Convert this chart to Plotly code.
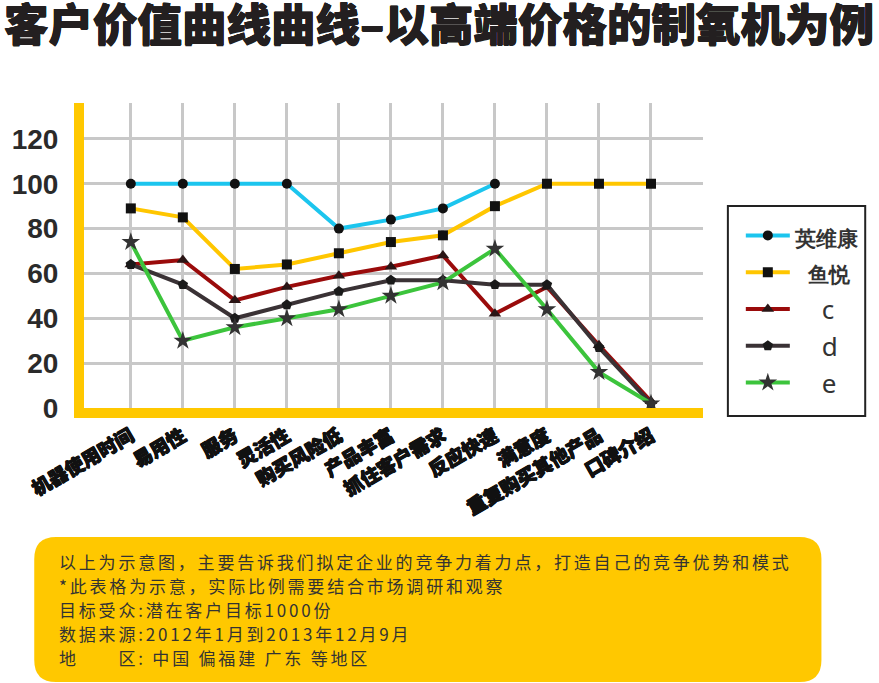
import plotly.graph_objects as go

# ---- data ----
categories = ["机器使用时间", "易用性", "服务", "灵活性", "购买风险低", "产品丰富",
              "抓住客户需求", "反应快速", "满意度", "重复购买其他产品", "口碑介绍"]
series_names = ["英维康", "鱼悦", "c", "d", "e"]
yingweikang = [100, 100, 100, 100, 80, 84, 89, 100, None, None, None]
yuyue = [89, 85, 62, 64, 69, 74, 77, 90, 100, 100, 100]
c_vals = [64, 66, 48, 54, 59, 63, 68, 42, 54, 28, 3]
d_vals = [64, 55, 40, 46, 52, 57, 57, 55, 55, 27, 2]
e_vals = [74, 30, 36, 40, 44, 50, 56, 71, 44, 16, 2]
y_ticks = [0, 20, 40, 60, 80, 100, 120]
notes = [
    "以上为示意图，主要告诉我们拟定企业的竞争力着力点，打造自己的竞争优势和模式",
    "*此表格为示意，实际比例需要结合市场调研和观察",
    "目标受众:潜在客户目标1000份",
    "数据来源:2012年1月到2013年12月9月",
    "地\u3000\u3000区: 中国 偏福建 广东 等地区",
]
title_text = "客户价值曲线曲线–以高端价格的制氧机为例"

# ---- layout geometry (pixels) ----
W, H = 879, 683
L, R, T, B = 81, 703, 103, 408
PW, PH = R - L, B - T


def px(x):
    return (x - L) / PW


def py(y):
    return (B - y) / PH


YELLOW = "#FFC800"
CJK = "Noto Sans CJK SC"
HEAVY = "0.5px 0 0 {c}, -0.5px 0 0 {c}, 0 0.5px 0 {c}, 0 -0.5px 0 {c}"

styles = [
    dict(color="#1CC5EE", symbol="circle", size=10, mcolor="#111111"),
    dict(color="#FFC600", symbol="square", size=10, mcolor="#111111"),
    dict(color="#9A0B0B", symbol="triangle-up", size=11, mcolor="#2a1515"),
    dict(color="#3A3235", symbol="pentagon", size=11, mcolor="#1a1a1a"),
    dict(color="#3CC43C", symbol="star", size=14, mcolor="#333333"),
]
cjk_span = "<span style='font-size:21px'><b>{}</b></span>"
legend_labels = [
    cjk_span.format("英维康"),
    "\u00a0\u00a0" + cjk_span.format("鱼悦"),
    "\u00a0\u00a0\u00a0\u00a0c",
    "\u00a0\u00a0\u00a0\u00a0d",
    "\u00a0\u00a0\u00a0\u00a0e",
]
all_vals = [yingweikang, yuyue, c_vals, d_vals, e_vals]
xs = list(range(len(categories)))

fig = go.Figure()
for name, lab, vals, st in zip(series_names, legend_labels, all_vals, styles):
    fig.add_trace(go.Scatter(
        x=xs, y=vals, name=lab, mode="lines+markers",
        line=dict(color=st["color"], width=4),
        marker=dict(symbol=st["symbol"], size=st["size"], color=st["mcolor"]),
        connectgaps=False,
    ))

shapes = []
# rounded note box
x0, x1, y0, y1, r = 31, 822, 537, 682, 22
path = (f"M {px(x0 + r)},{py(y0)} L {px(x1 - r)},{py(y0)} "
        f"Q {px(x1)},{py(y0)} {px(x1)},{py(y0 + r)} "
        f"L {px(x1)},{py(y1 - r)} Q {px(x1)},{py(y1)} {px(x1 - r)},{py(y1)} "
        f"L {px(x0 + r)},{py(y1)} Q {px(x0)},{py(y1)} {px(x0)},{py(y1 - r)} "
        f"L {px(x0)},{py(y0 + r)} Q {px(x0)},{py(y0)} {px(x0 + r)},{py(y0)} Z")
shapes.append(dict(type="path", xref="paper", yref="paper", path=path,
                   fillcolor=YELLOW, line=dict(width=0), layer="below"))
# legend frame
shapes.append(dict(type="rect", xref="paper", yref="paper",
                   x0=px(728), x1=px(866), y0=py(206), y1=py(416),
                   fillcolor="white", line=dict(color="#222222", width=2),
                   layer="below"))

annotations = [dict(
    text=title_text, xref="paper", yref="paper",
    x=px(0), y=py(22), xanchor="left", yanchor="middle", showarrow=False,
    borderpad=0,
    font=dict(family=CJK, size=44.5, color="#231F20", weight=900,
              shadow=HEAVY.format(c="#231F20")),
)]
note_y = [561, 585, 609, 633, 657]
for t, yy in zip(notes, note_y):
    annotations.append(dict(
        text=f"<span style='letter-spacing:2.8px'>{t}</span>",
        xref="paper", yref="paper", x=px(54), y=py(yy),
        xanchor="left", yanchor="middle", showarrow=False,
        font=dict(family=CJK, size=17, color="#333333"),
    ))

fig.update_layout(
    width=W, height=H,
    margin=dict(l=L, r=W - R, t=T, b=H - B, pad=0),
    paper_bgcolor="white", plot_bgcolor="white",
    showlegend=True,
    legend=dict(
        x=px(741), y=py(212), xanchor="left", yanchor="top",
        borderwidth=0, bgcolor="rgba(0,0,0,0)",
        font=dict(family="Noto Sans", size=26, color="#333333"),
        itemwidth=44, tracegroupgap=0,
    ),
    shapes=shapes, annotations=annotations,
    xaxis=dict(
        range=[-0.9, 11.0], tickmode="array", tickvals=list(range(12)),
        ticktext=categories + [""], tickangle=-30,
        tickfont=dict(family=CJK, size=19, color="#111111", weight=900,
                      shadow=HEAVY.format(c="#111111")),
        showgrid=True, gridcolor="#C8C8C8", gridwidth=2.5, zeroline=False,
        showline=True, linecolor=YELLOW, linewidth=10, ticks="",
    ),
    yaxis=dict(
        range=[0, 136], tickmode="array", tickvals=y_ticks,
        tickfont=dict(family="Liberation Sans", size=28, color="#2a2a2a",
                      weight="bold"),
        ticklabelstandoff=10,
        showgrid=True, gridcolor="#C8C8C8", gridwidth=2.5, zeroline=False,
        showline=True, linecolor=YELLOW, linewidth=10, ticks="",
    ),
)

fig.write_html("out.html", config={"displayModeBar": False},
               post_script="document.body.style.margin='0px';")
